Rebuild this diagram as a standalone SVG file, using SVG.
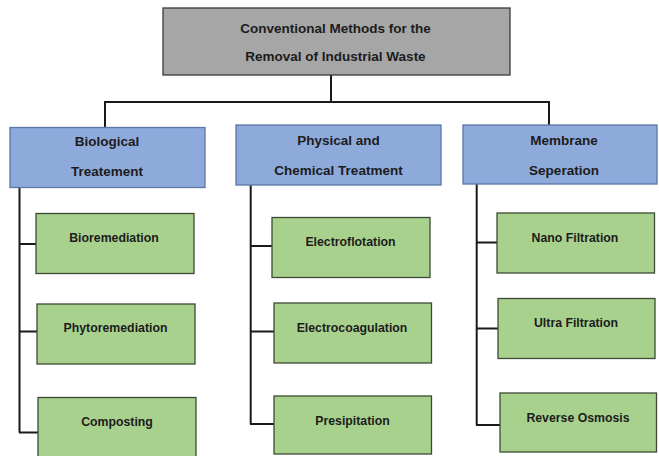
<svg xmlns="http://www.w3.org/2000/svg" width="659" height="456" viewBox="0 0 659 456">
<style>
.root{fill:#a6a6a6;stroke:#3a3a3a;stroke-width:1.3}
.cat{fill:#8eaadb;stroke:#5b76a8;stroke-width:1.3}
.leaf{fill:#a9d18e;stroke:#3d4a35;stroke-width:1.3}
.t{font-family:"Liberation Sans",Arial,sans-serif;font-weight:bold;fill:#1c1c1c;text-anchor:middle}
.big{font-size:13.5px}
.sm{font-size:12.3px}
.con{fill:none;stroke:#1a1a1a;stroke-width:2}
</style>
<rect width="659" height="456" fill="#ffffff"/>
<g id="connectors">
<path class="con" d="M331 75 V102 M104 102 H549 M105 101 V127 M549 101 V125"/>
<path class="con" d="M19.5 187 V432.5 M19 244 H36 M19 331.5 H37 M19 432.5 H38"/>
<path class="con" d="M250.7 185 V424 M250 246 H272 M250 331.5 H274 M250 424 H274"/>
<path class="con" d="M476.7 184 V425 M476 242.5 H497 M476 328.5 H498 M476 425 H500"/>
</g>
<g id="root">
<rect class="root" x="163" y="8" width="347" height="67"/>
<text class="t big" x="335.5" y="33">Conventional Methods for the</text>
<text class="t big" x="335.5" y="61">Removal of Industrial Waste</text>
</g>
<g id="biological">
<rect class="cat" x="10" y="127.5" width="195" height="60"/>
<text class="t big" x="107" y="146">Biological</text>
<text class="t big" x="107" y="175.5">Treatement</text>
</g>
<g id="physical">
<rect class="cat" x="236" y="125" width="205" height="60"/>
<text class="t big" x="338.5" y="145">Physical and</text>
<text class="t big" x="338.5" y="175">Chemical Treatment</text>
</g>
<g id="membrane">
<rect class="cat" x="463" y="125" width="194" height="59"/>
<text class="t big" x="564" y="145">Membrane</text>
<text class="t big" x="564" y="175">Seperation</text>
</g>
<g id="bioremediation">
<rect class="leaf" x="36" y="213.5" width="158" height="60"/>
<text class="t sm" x="114" y="242">Bioremediation</text>
</g>
<g id="phytoremediation">
<rect class="leaf" x="37" y="304" width="158" height="60"/>
<text class="t sm" x="115.5" y="332">Phytoremediation</text>
</g>
<g id="composting">
<rect class="leaf" x="38" y="397.5" width="158" height="60"/>
<text class="t sm" x="117" y="426">Composting</text>
</g>
<g id="electroflotation">
<rect class="leaf" x="272" y="217.5" width="158" height="60"/>
<text class="t sm" x="350.5" y="246">Electroflotation</text>
</g>
<g id="electrocoagulation">
<rect class="leaf" x="274" y="303" width="157.5" height="60"/>
<text class="t sm" x="352" y="332">Electrocoagulation</text>
</g>
<g id="presipitation">
<rect class="leaf" x="274" y="396" width="157.5" height="58"/>
<text class="t sm" x="352.5" y="425">Presipitation</text>
</g>
<g id="nano">
<rect class="leaf" x="497" y="213" width="157.5" height="60"/>
<text class="t sm" x="575" y="241.5">Nano Filtration</text>
</g>
<g id="ultra">
<rect class="leaf" x="498" y="298.5" width="157" height="60"/>
<text class="t sm" x="576" y="327">Ultra Filtration</text>
</g>
<g id="reverse">
<rect class="leaf" x="500" y="393" width="156.5" height="59"/>
<text class="t sm" x="578" y="421.5">Reverse Osmosis</text>
</g>
</svg>
